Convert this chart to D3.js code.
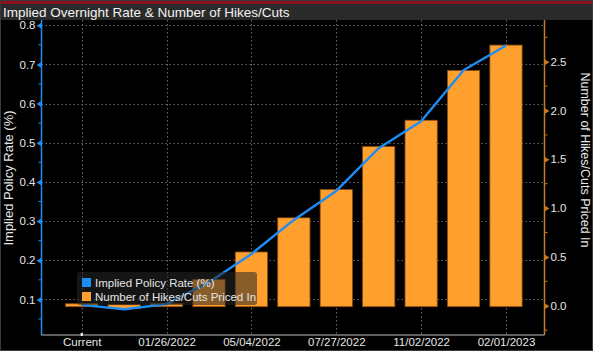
<!DOCTYPE html>
<html>
<head>
<meta charset="utf-8">
<script src="https://cdn.jsdelivr.net/npm/d3@7"></script>
<style>
  body { margin: 0; background: #000; }
  svg { display: block; font-family: "Liberation Sans", Arial, sans-serif; }
  .tick text { fill: #e6e6e6; font-size: 11.5px; }
</style>
</head>
<body>
<div id="chart"></div>
<script>
// meeting dates (every other one labelled)
const meetings = ["Current", "12/15/2021", "01/26/2022", "03/16/2022", "05/04/2022", "06/15/2022",
                  "07/27/2022", "09/21/2022", "11/02/2022", "12/14/2022", "02/01/2023"];
const shownLabels = ["Current", "01/26/2022", "05/04/2022", "07/27/2022", "11/02/2022", "02/01/2023"];
// implied policy rate (%)
const impliedRate = [0.086, 0.075, 0.088, 0.144, 0.216, 0.303, 0.377, 0.486, 0.555, 0.685, 0.748];
// number of hikes/cuts priced in
const hikes = [0.01, -0.02, 0.01, 0.26, 0.54, 0.89, 1.18, 1.62, 1.89, 2.40, 2.66];
const leftTicks = [0.1, 0.2, 0.3, 0.4, 0.5, 0.6, 0.7, 0.8];
const leftMinor = [0.05, 0.15, 0.25, 0.35, 0.45, 0.55, 0.65, 0.75];
const rightTicks = [0, 0.5, 1.0, 1.5, 2.0, 2.5];
const rightMinor = [-0.25, 0.25, 0.75, 1.25, 1.75, 2.25, 2.75];

const width = 593, height = 351,
  plot = { left: 41.5, right: 544.5, top: 20, bottom: 335 },
  blue = "#1e8cf5", orange = "#ff9f2e", axisOrange = "#c77a22";

const x = d3.scalePoint().domain(meetings).range([81.7, 506]);
const barW = x.step() * 0.76;
const yL = d3.scaleLinear().domain([0, 0.8]).range([338.6, 25.2]);
const yR = d3.scaleLinear().domain([0, 2.5]).range([305.7, 61.7]);

const svg = d3.select("#chart").append("svg")
  .attr("width", width).attr("height", height);

svg.append("rect").attr("width", width).attr("height", height).attr("fill", "#000");

// title bar
svg.append("rect").attr("x", 0).attr("y", 0).attr("width", width).attr("height", 4).attr("fill", "#8c0f1f");
svg.append("rect").attr("x", 0).attr("y", 4).attr("width", width).attr("height", 16).attr("fill", "#2a2a2a");
svg.append("text").attr("x", 3).attr("y", 16.5)
  .attr("fill", "#f2f2f2").attr("font-size", 13.5)
  .text("Implied Overnight Rate & Number of Hikes/Cuts");

// grid
const grid = svg.append("g").attr("stroke", "#6a6a6a").attr("stroke-dasharray", "1.5,2.5").attr("stroke-width", 1);
grid.selectAll("line.h").data(leftTicks).join("line").attr("class", "h")
  .attr("x1", plot.left).attr("x2", plot.right)
  .attr("y1", d => Math.round(yL(d)) + 0.5).attr("y2", d => Math.round(yL(d)) + 0.5);
grid.selectAll("line.v").data(shownLabels).join("line").attr("class", "v")
  .attr("x1", d => Math.round(x(d)) + 0.5).attr("x2", d => Math.round(x(d)) + 0.5)
  .attr("y1", plot.top).attr("y2", plot.bottom);

// bars
svg.append("g").selectAll("rect").data(meetings).join("rect")
  .attr("x", d => x(d) - barW / 2)
  .attr("width", barW)
  .attr("y", (d, i) => Math.min(yR(hikes[i]), yR(0)) - 1)
  .attr("height", (d, i) => Math.abs(yR(hikes[i]) - yR(0)) + 2)
  .attr("fill", orange)
  .attr("stroke", "#8a4c0c").attr("stroke-width", 0.8);

// line
svg.append("path").datum(meetings)
  .attr("fill", "none").attr("stroke", blue).attr("stroke-width", 2.4)
  .attr("stroke-linejoin", "round")
  .attr("d", d3.line().x(d => x(d)).y((d, i) => yL(impliedRate[i])));

// left axis
const axL = svg.append("g").attr("transform", `translate(${plot.left},0)`)
  .call(d3.axisLeft(yL).tickValues(leftTicks).tickSize(0).tickPadding(6).tickFormat(d3.format(".1f")));
axL.select(".domain").remove();
axL.append("line").attr("y1", plot.top).attr("y2", plot.bottom).attr("stroke", blue).attr("stroke-width", 1.5);
axL.selectAll(".tick").append("path").attr("d", "M0,-3L-5,0L0,3Z").attr("fill", blue);
axL.selectAll("line.minor").data(leftMinor).join("line").attr("class", "minor")
  .attr("x1", -3).attr("x2", 0).attr("y1", d => yL(d)).attr("y2", d => yL(d))
  .attr("stroke", blue);

// right axis
const axR = svg.append("g").attr("transform", `translate(${plot.right},0)`)
  .call(d3.axisRight(yR).tickValues(rightTicks).tickSize(0).tickPadding(6).tickFormat(d3.format(".1f")));
axR.select(".domain").remove();
axR.append("line").attr("y1", plot.top).attr("y2", plot.bottom).attr("stroke", axisOrange).attr("stroke-width", 1.5);
axR.selectAll(".tick").append("path").attr("d", "M0,-3L5,0L0,3Z").attr("fill", axisOrange);
axR.selectAll("line.minor").data(rightMinor).join("line").attr("class", "minor")
  .attr("x1", 0).attr("x2", 3).attr("y1", d => yR(d)).attr("y2", d => yR(d))
  .attr("stroke", axisOrange);

// bottom axis
const axB = svg.append("g").attr("transform", `translate(0,${plot.bottom})`)
  .call(d3.axisBottom(x).tickValues(shownLabels).tickSize(0).tickPadding(3));
axB.select(".domain").remove();
axB.append("line").attr("x1", plot.left).attr("x2", plot.right).attr("stroke", "#bdbdbd").attr("stroke-width", 1.2);
axB.append("line").attr("x1", x("Current")).attr("x2", x("Current")).attr("y1", -2).attr("y2", 1)
  .attr("stroke", "#fff").attr("stroke-width", 2);
axB.selectAll(".tick text").attr("dy", "0.71em").attr("font-size", 11.5);

// axis titles
svg.append("text")
  .attr("transform", `translate(13,178) rotate(-90)`)
  .attr("text-anchor", "middle").attr("fill", "#e6e6e6").attr("font-size", 13)
  .text("Implied Policy Rate (%)");
svg.append("text")
  .attr("transform", `translate(581,160) rotate(90)`)
  .attr("text-anchor", "middle").attr("fill", "#e6e6e6").attr("font-size", 12.5)
  .text("Number of Hikes/Cuts Priced In");

// legend
const legendItems = ["Implied Policy Rate (%)", "Number of Hikes/Cuts Priced In"];
const legendColors = [blue, orange];
const lg = svg.append("g").attr("transform", "translate(77,272)");
lg.append("rect").attr("width", 180).attr("height", 33).attr("rx", 3)
  .attr("fill", "rgb(38,38,38)").attr("fill-opacity", 0.55);
const li = lg.selectAll("g").data(legendItems).join("g")
  .attr("transform", (d, i) => `translate(5,${6 + i * 14})`);
li.append("rect").attr("width", 9).attr("height", 9).attr("fill", (d, i) => legendColors[i]);
li.append("text").attr("x", 13).attr("y", 8.5).attr("fill", "#e6e6e6").attr("font-size", 11.5).text(d => d);

// frame
svg.append("rect").attr("x", 0.5).attr("y", 0.5).attr("width", width - 1).attr("height", height - 1)
  .attr("fill", "none").attr("stroke", "#3a3a3a");
</script>
</body>
</html>
